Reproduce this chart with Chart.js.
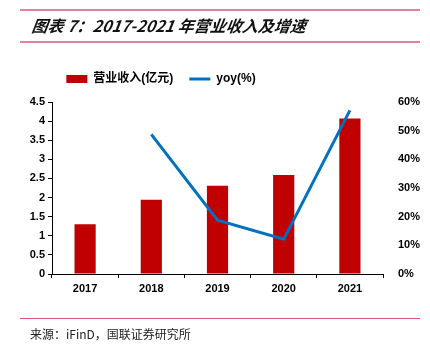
<!DOCTYPE html>
<html><head><meta charset="utf-8">
<script src="https://cdn.jsdelivr.net/npm/chart.js@4"></script>
<style>
html,body{margin:0;padding:0;background:#fff;}
#wrap{position:relative;width:430px;height:355px;overflow:hidden;}
#c{position:absolute;left:0;top:0;}
.hl{position:absolute;left:20px;width:400px;}
#title{position:absolute;left:32px;top:13px;font-family:"Noto Sans CJK SC";font-style:italic;font-weight:700;font-size:16px;color:#111;white-space:nowrap;transform:skewX(-8deg);}
#src{position:absolute;left:30px;top:325px;font-family:"Noto Sans CJK SC","Liberation Sans";font-size:12px;color:#222;white-space:nowrap;}
</style></head><body>
<div id="wrap">
<canvas id="c" width="430" height="355"></canvas>
<div class="hl" style="top:9px;height:2px;background:#e08298;"></div>
<div class="hl" style="top:41px;height:2px;background:#e08298;"></div>
<div class="hl" style="top:318px;height:1px;background:#d9566e;"></div>
<div id="title">图表 7：2017-2021 年营业收入及增速</div>
<div id="src">来源：iFinD，国联证券研究所</div>
</div>
<script>
const categories = ["2017","2018","2019","2020","2021"];
const revenue = [1.30, 1.94, 2.31, 2.59, 4.07];
const yoy = [null, 48.7, 18.8, 12.1, 57.1];
const leftTicks = [0,0.5,1,1.5,2,2.5,3,3.5,4,4.5];
const rightTicks = [0,10,20,30,40,50,60];

const tickFont = {family:"Liberation Sans", weight:"bold", size:11};
const legendTweak = {
  id:'legendTweak',
  afterInit(chart){
    const lg = chart.legend;
    const orig = lg.fit;
    lg.fit = function(){ orig.call(this); this.height += 7; };
  },
  afterLayout(chart){
    chart.legend.left -= 54; chart.legend.right -= 54;
  }
};
new Chart(document.getElementById('c'), {
  type:'bar',
  data:{
    labels:categories,
    datasets:[
      {type:'bar', label:'营业收入(亿元)', data:revenue, backgroundColor:'#c00000', yAxisID:'y', categoryPercentage:1, barPercentage:0.32, order:2, pointStyle:'rect'},
      {type:'line', label:'yoy(%)', data:yoy, borderColor:'#0070c0', backgroundColor:'#0070c0', borderWidth:3, pointRadius:0, yAxisID:'y1', order:1, spanGaps:false, pointStyle:'line', tension:0}
    ]
  },
  plugins:[legendTweak],
  options:{
    responsive:false, animation:false, devicePixelRatio:1,
    layout:{padding:{top:57,left:0,right:0,bottom:0}},
    plugins:{
      legend:{position:'top', labels:{usePointStyle:true, pointStyleWidth:21, boxHeight:8, sort:(a,b)=>a.datasetIndex-b.datasetIndex, font:{family:"Liberation Sans, Noto Sans CJK SC", weight:'bold', size:12}, color:'#000', padding:16}},
      tooltip:{enabled:false}
    },
    scales:{
      x:{
        grid:{display:true, drawOnChartArea:false, drawTicks:true, tickLength:4, color:'#000', offset:true},
        border:{display:true, color:'#000', width:1},
        ticks:{font:tickFont, color:'#000', padding:4},
        afterFit(s){ s.height = 81; }
      },
      y:{
        position:'left', min:0, max:4.5,
        afterBuildTicks(s){ s.ticks = leftTicks.map(v=>({value:v})); },
        grid:{display:true, drawOnChartArea:false, drawTicks:true, tickLength:4, color:'#000'},
        border:{display:true, color:'#000', width:1},
        ticks:{font:tickFont, color:'#000', padding:3, callback:v=>String(v)},
        afterFit(s){ s.width = 52; }
      },
      y1:{
        position:'right', min:0, max:60,
        afterBuildTicks(s){ s.ticks = rightTicks.map(v=>({value:v})); },
        grid:{display:false},
        border:{display:false},
        ticks:{font:tickFont, color:'#000', padding:7, callback:v=>v+'%'},
        afterFit(s){ s.width = 47; }
      }
    }
  }
});
</script>
</body></html>
